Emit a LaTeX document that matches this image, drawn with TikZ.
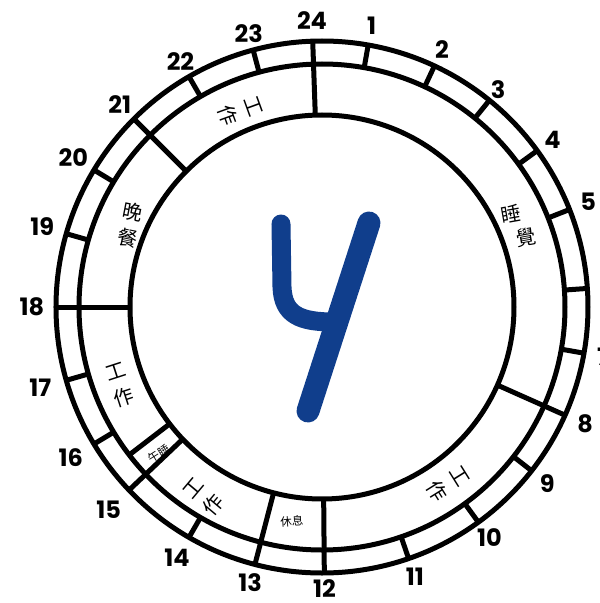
\documentclass[tikz,border=0pt]{standalone}
\usepackage{fontspec}
\setmainfont{Poppins}
\newfontfamily\cjk{Noto Sans CJK TC}
\usetikzlibrary{calc}

\definecolor{inkblue}{RGB}{16,62,140}

\tikzset{
  ring/.style={line width=5pt},
  hourlabel/.style={font=\fontsize{24}{24}\selectfont\bfseries, inner sep=0pt},
  task/.style={font=\cjk\fontsize{20}{27}\selectfont, align=center, inner sep=0pt},
  smalltask/.style={font=\cjk\fontsize{11.5}{14}\selectfont, inner sep=0pt},
}

\begin{document}
\begin{tikzpicture}[x=1pt,y=1pt]
\def\rout{266}
\def\rmid{243}
\def\rin{192}

\useasboundingbox (-322,-296) rectangle (278,307);
\coordinate (C) at (0,0);

\draw[ring] (C) circle (\rout);
\draw[ring] (C) circle (\rmid);
\draw[ring] (C) circle (\rin);

% hours
\foreach \h/\a/\r in {24/92/287,1/80/286,2/65/284,3/51/280,4/36/285,5/21.5/286,6/4/286,
                      7/-10/286,8/-24/288,9/-38/286,10/-54/285,11/-71/285,12/-89.5/282,
                      13/-104.6/285,14/-120/290,15/-136.5/294,16/-149/293,17/-164/293,
                      18/180/290,19/164/291,20/149/290,21/135/286,22/120/283,23/105/283}{
  \draw[ring] (\a:\rmid) -- (\a:\rout);
  \node[hourlabel] (h\h) at (\a:\r) {\h};
}

% activity borders
\foreach \a in {92,135,180,217.5,223.5,255.4,270.5,336}{
  \draw[ring] (\a:\rin) -- (\a:\rmid);
}

\node[task, rotate=-70] (work1) at (-82,196) {工\\作};
\node[task, rotate=-11] (dinner) at (-192,82) {晚\\餐};
\node[task, rotate=18] (work2) at (-202,-78) {工\\作};
\node[smalltask, rotate=32] (nap) at (-163,-147) {午睡};
\node[task, rotate=50] (work3) at (-118,-190) {工\\作};
\node[smalltask, rotate=3] (rest) at (-30,-214) {休息};
\node[task, rotate=-58] (work4) at (126,-177) {工\\作};
\node[task, rotate=10] (sleep1) at (189,93) {睡};
\node[task, rotate=10] (sleep2) at (204,70) {覺};

% the big 4
\draw[inkblue, line width=19pt, line cap=round, line join=round]
  (-41,83) -- (-40,20) .. controls (-39,-8) and (-22,-15) .. (12,-15);
\draw[inkblue, line width=23pt, line cap=round] (47,84) -- (-14,-104);
\end{tikzpicture}
\end{document}
